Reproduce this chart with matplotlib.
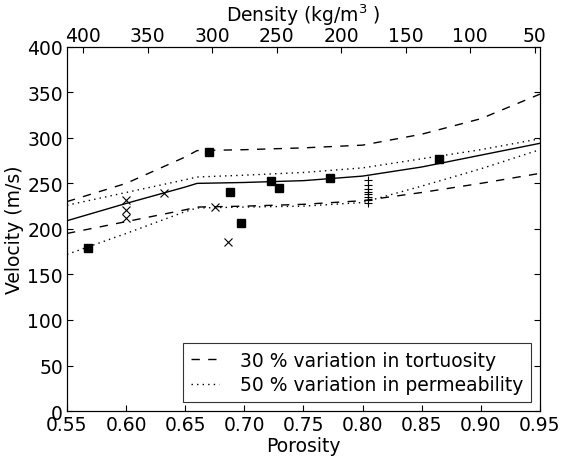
import numpy as np
import matplotlib
matplotlib.use("Agg")
import matplotlib.pyplot as plt

rho_ice = 917.0

# model curves (porosity vs velocity)
phi = [0.55, 0.60, 0.65, 0.66, 0.70, 0.75, 0.80, 0.85, 0.90, 0.95]
v_model = [209, 228, 246, 250, 251, 253, 258, 268, 281, 294]
v_tort_hi = [230, 250, 279, 286, 287, 289, 292, 304, 321, 348]
v_tort_lo = [195, 208, 221, 224, 225, 227, 231, 240, 250, 261]
v_perm_hi = [226, 240, 254, 257, 259, 262, 267, 277, 287, 299]
v_perm_lo = [172, 195, 219, 223, 224, 225, 229, 247, 266, 287]

# measurements
sq_phi = [0.5675, 0.670, 0.688, 0.697, 0.7228, 0.7295, 0.7724, 0.8649]
sq_v = [179, 285, 241, 206, 253, 245, 256, 277]
x_phi = [0.600, 0.600, 0.600, 0.632, 0.675, 0.686]
x_v = [232, 221, 212, 239, 224, 186]
p_phi = [0.805] * 8
p_v = [254, 248, 244, 241, 238, 235, 232, 228]

top_ticks = [400, 350, 300, 250, 200, 150, 100, 50]

plt.rcParams['font.size'] = 13.5
plt.rcParams['xtick.direction'] = 'in'
plt.rcParams['ytick.direction'] = 'in'

fig = plt.figure(figsize=(5.63, 4.64), dpi=100)
ax = fig.add_axes([0.119, 0.112, 0.840, 0.785])

ax.plot(phi, v_model, color='k', lw=1)
ax.plot(phi, v_tort_hi, color='k', lw=1, ls=(0, (6, 6)),
        label='30 % variation in tortuosity')
ax.plot(phi, v_tort_lo, color='k', lw=1, ls=(0, (6, 6)))
ax.plot(phi, v_perm_hi, color='k', lw=1, ls=(0, (1, 3)),
        label='50 % variation in permeability')
ax.plot(phi, v_perm_lo, color='k', lw=1, ls=(0, (1, 3)))

ax.plot(sq_phi, sq_v, 's', color='k', ms=6, ls='none')
ax.plot(x_phi, x_v, 'x', color='k', ms=5.5, mew=0.8, ls='none')
ax.plot(p_phi, p_v, '+', color='k', ms=6, mew=0.8, ls='none')

ax.set_xlim(0.55, 0.95)
ax.set_ylim(0, 400)
ax.set_xticks(np.arange(0.55, 0.951, 0.05))
ax.set_xticklabels(['%.2f' % t for t in np.arange(0.55, 0.951, 0.05)])
ax.set_yticks(range(0, 401, 50))
ax.set_xlabel('Porosity', labelpad=1)
ax.set_ylabel('Velocity (m/s)', labelpad=2)
ax.tick_params(top=False, right=True, length=4, pad=3)

leg = ax.legend(loc='lower right', handlelength=1.5, frameon=True,
                fancybox=False, borderaxespad=0.5, handletextpad=1.1,
                borderpad=0.4, labelspacing=0.3)
leg.get_frame().set_edgecolor('k')
leg.get_frame().set_linewidth(0.8)

ax2 = ax.twiny()
ax2.set_xlim((1 - 0.55) * rho_ice, (1 - 0.95) * rho_ice)
ax2.set_xticks(top_ticks)
ax2.set_xticklabels([str(t) for t in top_ticks])
ax2.tick_params(direction='in', length=4, pad=1)
ax2.set_xlabel('Density (kg/m$^3$ )', labelpad=4)

fig.savefig('out.png', dpi=100, facecolor='white')
